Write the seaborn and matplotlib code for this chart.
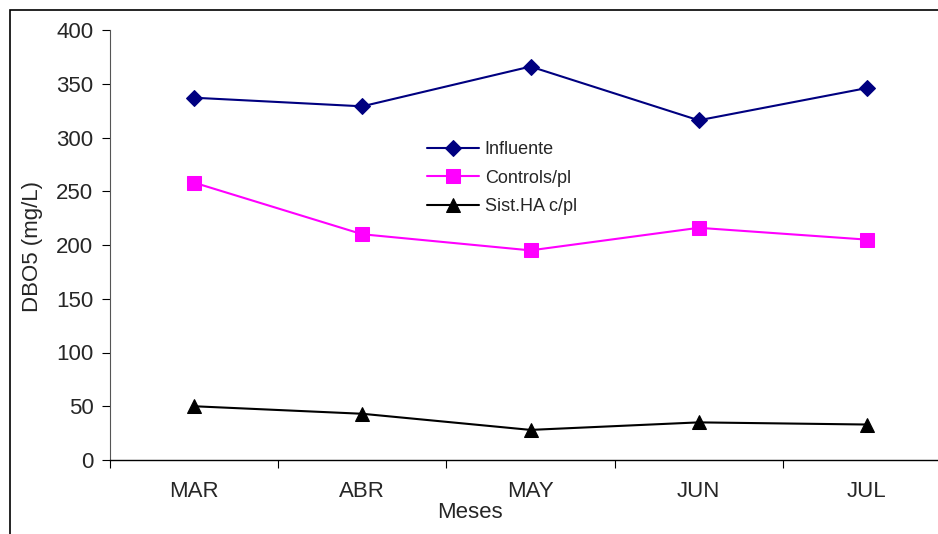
import matplotlib
matplotlib.use("Agg")
import matplotlib.pyplot as plt
from matplotlib.patches import Rectangle
import seaborn as sns
import pandas as pd

# Monthly DBO5 readings (mg/L)
meses = ["MAR", "ABR", "MAY", "JUN", "JUL"]
influente = [337, 329, 366, 316, 346]
control_spl = [258, 210, 195, 216, 205]
sist_ha_cpl = [50, 43, 28, 35, 33]
series_names = ["Influente", "Controls/pl", "Sist.HA c/pl"]
y_ticks = [0, 50, 100, 150, 200, 250, 300, 350, 400]

df = pd.DataFrame({
    "Meses": meses * 3,
    "DBO5": influente + control_spl + sist_ha_cpl,
    "Serie": [series_names[0]] * 5 + [series_names[1]] * 5 + [series_names[2]] * 5,
})
df["Meses"] = pd.Categorical(df["Meses"], categories=meses, ordered=True)
df["pos"] = df["Meses"].cat.codes

sns.set_theme(style="white")
plt.rcParams["font.family"] = ["Liberation Sans", "DejaVu Sans"]

W, H = 938, 534
fig = plt.figure(figsize=(W / 100, H / 100), dpi=100)
ax = fig.add_axes([110 / W, (H - 460) / H, (951 - 110) / W, 430 / H])

# Outer chart frame (runs past the right/bottom edges)
fig.patches.append(Rectangle((10 / W, -0.2), 1.2, (H - 10) / H + 0.2,
                             transform=fig.transFigure, fill=False,
                             edgecolor="black", linewidth=1.2, zorder=0))

palette = {series_names[0]: "#000080", series_names[1]: "#FF00FF", series_names[2]: "#000000"}
markers = {series_names[0]: "D", series_names[1]: "s", series_names[2]: "^"}
sizes = {series_names[0]: 8, series_names[1]: 10, series_names[2]: 10}

for name in series_names:
    sub = df[df["Serie"] == name]
    sns.lineplot(data=sub, x="pos", y="DBO5", ax=ax, color=palette[name],
                 marker=markers[name], markersize=sizes[name],
                 markeredgecolor=palette[name], linewidth=1.5, label=name)

fs = 16
ax.set_xlim(-0.5, 4.5)
ax.set_ylim(0, 400)
ax.set_yticks(y_ticks)
ax.set_yticklabels([str(v) for v in y_ticks], fontsize=fs)
ax.set_xticks(range(len(meses)))
ax.set_xticklabels(meses, fontsize=fs)
ax.set_xticks([i - 0.5 for i in range(len(meses) + 1)], minor=True)
ax.tick_params(axis="x", which="major", length=0, pad=15)
ax.tick_params(axis="x", which="minor", length=6, width=0.8, direction="out",
               bottom=True, color="black")
ax.tick_params(axis="y", length=6, width=0.8, direction="out", left=True,
               color="black", pad=6)

for side in ["top", "right"]:
    ax.spines[side].set_visible(False)
ax.spines["bottom"].set_color("black")
ax.spines["bottom"].set_linewidth(1.0)
ax.spines["left"].set_color("#555555")
ax.spines["left"].set_linewidth(0.8)

ax.set_xlabel("Meses", fontsize=fs)
ax.set_ylabel("DBO5 (mg/L)", fontsize=fs)
ax.xaxis.set_label_coords((470 - 110) / (951 - 110), -(512 - 460) / 430)
ax.yaxis.set_label_coords(-(110 - 32) / (951 - 110), (460 - 247) / 430)
ax.xaxis.label.set_va("center")
ax.yaxis.label.set_va("center")

ax.legend(loc="upper left", bbox_to_anchor=(427 / W, 1 - 141 / H),
          bbox_transform=fig.transFigure, frameon=False, fontsize=13,
          handlelength=2.9, labelspacing=0.65, handletextpad=0.3,
          borderpad=0, borderaxespad=0)

fig.savefig("out.png", dpi=100, facecolor="white")
